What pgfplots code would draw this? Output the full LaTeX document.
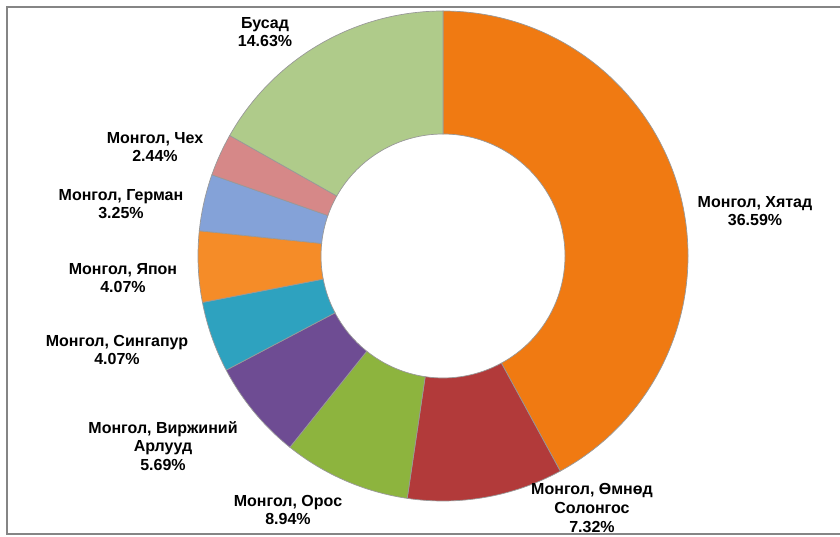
\documentclass[border=0pt]{standalone}
\usepackage{fontspec}
\setmainfont{Liberation Sans}
\usepackage{pgfplots}
\usepackage{pgfplotstable}
\pgfplotsset{compat=1.18}

% slice sizes as drawn in the reference (clockwise from the top)
\pgfplotstableread{
idx pct
0 36.59
1 8.94
2 7.32
3 5.69
4 4.07
5 4.07
6 3.25
7 2.44
8 14.63
}\donutdata

\definecolor{c0}{HTML}{F07A12}
\definecolor{c1}{HTML}{B23A3A}
\definecolor{c2}{HTML}{8DB43E}
\definecolor{c3}{HTML}{6E4C93}
\definecolor{c4}{HTML}{2EA2BF}
\definecolor{c5}{HTML}{F58C28}
\definecolor{c6}{HTML}{84A2D8}
\definecolor{c7}{HTML}{D68888}
\definecolor{c8}{HTML}{AFCB8A}
\definecolor{framegray}{HTML}{858585}

\begin{document}
\begin{tikzpicture}
\pgfmathsetmacro{\tot}{0}
\pgfplotsforeachungrouped \i in {0,...,8}{%
  \pgfplotstablegetelem{\i}{pct}\of\donutdata
  \pgfmathsetmacro{\tot}{\tot+\pgfplotsretval}%
}
\def\cum{0}
\pgfplotsforeachungrouped \i in {0,...,8}{%
  \pgfplotstablegetelem{\i}{pct}\of\donutdata
  \pgfmathsetmacro{\a}{90-360*(\cum/\tot)}%
  \pgfmathsetmacro{\cum}{\cum+\pgfplotsretval}%
  \pgfmathsetmacro{\b}{90-360*(\cum/\tot)}%
  \expandafter\xdef\csname angA\i\endcsname{\a}%
  \expandafter\xdef\csname angB\i\endcsname{\b}%
}
\begin{axis}[x=0.5pt,y=0.5pt,xmin=0,xmax=840,ymin=0,ymax=536,hide axis,clip=true,
  nodes={font=\bfseries\fontsize{8.0}{9.3}\selectfont, align=center, text=black}]
\draw[framegray, line width=0.75pt] (axis cs:7,2) rectangle (axis cs:860,529);
\pgfplotsinvokeforeach{0,...,8}{%
  \fill[c#1, draw=black!40, line width=0.35pt]
    (axis cs:443,280) ++(\csname angA#1\endcsname:122.5pt)
    arc[start angle=\csname angA#1\endcsname, end angle=\csname angB#1\endcsname, radius=122.5pt]
    -- ++(\csname angB#1\endcsname:-61.5pt)
    arc[start angle=\csname angB#1\endcsname, end angle=\csname angA#1\endcsname, radius=61pt]
    -- cycle;
}
\node at (axis cs:265,504) {Бусад\\14.63\%};
\node at (axis cs:155,389) {Монгол, Чех\\2.44\%};
\node at (axis cs:121,332) {Монгол, Герман\\3.25\%};
\node at (axis cs:123,258) {Монгол, Япон\\4.07\%};
\node at (axis cs:117,186) {Монгол, Сингапур\\4.07\%};
\node at (axis cs:163,90) {Монгол, Виржиний\\Арлууд\\5.69\%};
\node at (axis cs:288,26) {Монгол, Орос\\8.94\%};
\node at (axis cs:592,28) {Монгол, Өмнөд\\Солонгос\\7.32\%};
\node at (axis cs:755,325) {Монгол, Хятад\\36.59\%};
\end{axis}
\pgfresetboundingbox
\useasboundingbox (current axis.south west) rectangle (current axis.north east);
\end{tikzpicture}
\end{document}
